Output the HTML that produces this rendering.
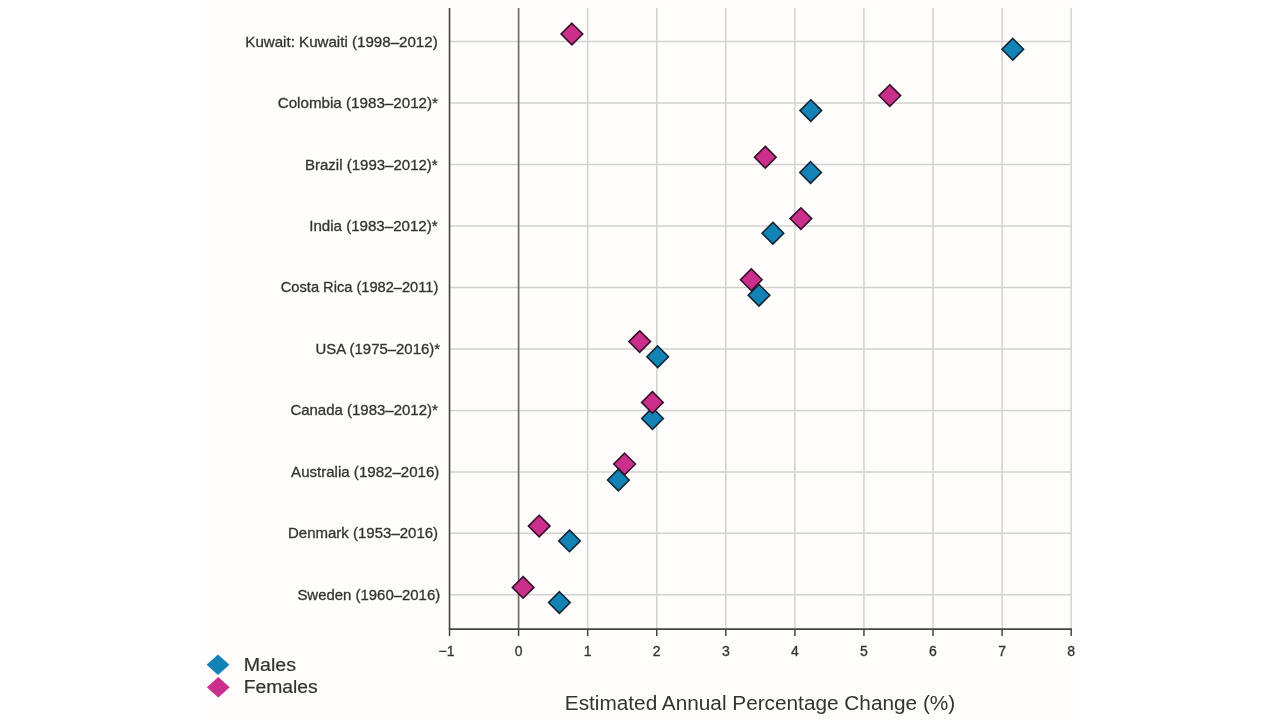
<!DOCTYPE html>
<html><head><meta charset="utf-8"><title>Estimated Annual Percentage Change</title>
<style>
html,body{margin:0;padding:0;background:#ffffff;}
body{width:1280px;height:720px;overflow:hidden;position:relative;font-family:"Liberation Sans",sans-serif;}
.panel{position:absolute;left:200px;top:0;width:880px;height:720px;background:#fefdfb;}
svg{position:absolute;left:0;top:0;will-change:transform;}
svg text{font-family:"Liberation Sans",sans-serif;}
</style></head>
<body>
<div class="panel"></div>
<svg width="1280" height="720" viewBox="0 0 1280 720">
<line x1="449.53" y1="41.60" x2="1071.16" y2="41.60" stroke="#d3d1cf" stroke-width="1.5"/>
<line x1="449.53" y1="103.07" x2="1071.16" y2="103.07" stroke="#d3d1cf" stroke-width="1.5"/>
<line x1="449.53" y1="164.54" x2="1071.16" y2="164.54" stroke="#d3d1cf" stroke-width="1.5"/>
<line x1="449.53" y1="226.01" x2="1071.16" y2="226.01" stroke="#d3d1cf" stroke-width="1.5"/>
<line x1="449.53" y1="287.48" x2="1071.16" y2="287.48" stroke="#d3d1cf" stroke-width="1.5"/>
<line x1="449.53" y1="348.95" x2="1071.16" y2="348.95" stroke="#d3d1cf" stroke-width="1.5"/>
<line x1="449.53" y1="410.42" x2="1071.16" y2="410.42" stroke="#d3d1cf" stroke-width="1.5"/>
<line x1="449.53" y1="471.89" x2="1071.16" y2="471.89" stroke="#d3d1cf" stroke-width="1.5"/>
<line x1="449.53" y1="533.36" x2="1071.16" y2="533.36" stroke="#d3d1cf" stroke-width="1.5"/>
<line x1="449.53" y1="594.83" x2="1071.16" y2="594.83" stroke="#d3d1cf" stroke-width="1.5"/>
<line x1="587.67" y1="8.0" x2="587.67" y2="629.10" stroke="#d3d1cf" stroke-width="1.5"/>
<line x1="656.74" y1="8.0" x2="656.74" y2="629.10" stroke="#d3d1cf" stroke-width="1.5"/>
<line x1="725.81" y1="8.0" x2="725.81" y2="629.10" stroke="#d3d1cf" stroke-width="1.5"/>
<line x1="794.88" y1="8.0" x2="794.88" y2="629.10" stroke="#d3d1cf" stroke-width="1.5"/>
<line x1="863.95" y1="8.0" x2="863.95" y2="629.10" stroke="#d3d1cf" stroke-width="1.5"/>
<line x1="933.02" y1="8.0" x2="933.02" y2="629.10" stroke="#d3d1cf" stroke-width="1.5"/>
<line x1="1002.09" y1="8.0" x2="1002.09" y2="629.10" stroke="#d3d1cf" stroke-width="1.5"/>
<line x1="1071.16" y1="8.0" x2="1071.16" y2="629.10" stroke="#d3d1cf" stroke-width="1.5"/>
<line x1="449.53" y1="8.0" x2="449.53" y2="629.10" stroke="#444444" stroke-width="1.6"/>
<line x1="518.60" y1="8.0" x2="518.60" y2="629.10" stroke="#6a6666" stroke-width="1.6"/>
<line x1="448.78" y1="629.10" x2="1071.91" y2="629.10" stroke="#444444" stroke-width="1.8"/>
<line x1="449.53" y1="629.10" x2="449.53" y2="636.10" stroke="#444444" stroke-width="1.5"/>
<line x1="518.60" y1="629.10" x2="518.60" y2="636.10" stroke="#444444" stroke-width="1.5"/>
<line x1="587.67" y1="629.10" x2="587.67" y2="636.10" stroke="#444444" stroke-width="1.5"/>
<line x1="656.74" y1="629.10" x2="656.74" y2="636.10" stroke="#444444" stroke-width="1.5"/>
<line x1="725.81" y1="629.10" x2="725.81" y2="636.10" stroke="#444444" stroke-width="1.5"/>
<line x1="794.88" y1="629.10" x2="794.88" y2="636.10" stroke="#444444" stroke-width="1.5"/>
<line x1="863.95" y1="629.10" x2="863.95" y2="636.10" stroke="#444444" stroke-width="1.5"/>
<line x1="933.02" y1="629.10" x2="933.02" y2="636.10" stroke="#444444" stroke-width="1.5"/>
<line x1="1002.09" y1="629.10" x2="1002.09" y2="636.10" stroke="#444444" stroke-width="1.5"/>
<line x1="1071.16" y1="629.10" x2="1071.16" y2="636.10" stroke="#444444" stroke-width="1.5"/>
<text x="446.53" y="656.2" font-size="14" text-anchor="middle" fill="#333333" stroke="#333333" stroke-width="0.3">−1</text>
<text x="518.60" y="656.2" font-size="14" text-anchor="middle" fill="#333333" stroke="#333333" stroke-width="0.3">0</text>
<text x="587.67" y="656.2" font-size="14" text-anchor="middle" fill="#333333" stroke="#333333" stroke-width="0.3">1</text>
<text x="656.74" y="656.2" font-size="14" text-anchor="middle" fill="#333333" stroke="#333333" stroke-width="0.3">2</text>
<text x="725.81" y="656.2" font-size="14" text-anchor="middle" fill="#333333" stroke="#333333" stroke-width="0.3">3</text>
<text x="794.88" y="656.2" font-size="14" text-anchor="middle" fill="#333333" stroke="#333333" stroke-width="0.3">4</text>
<text x="863.95" y="656.2" font-size="14" text-anchor="middle" fill="#333333" stroke="#333333" stroke-width="0.3">5</text>
<text x="933.02" y="656.2" font-size="14" text-anchor="middle" fill="#333333" stroke="#333333" stroke-width="0.3">6</text>
<text x="1002.09" y="656.2" font-size="14" text-anchor="middle" fill="#333333" stroke="#333333" stroke-width="0.3">7</text>
<text x="1071.16" y="656.2" font-size="14" text-anchor="middle" fill="#333333" stroke="#333333" stroke-width="0.3">8</text>
<text x="245.30" y="46.60" font-size="14.5" fill="#333333" stroke="#333333" stroke-width="0.3" textLength="192.40" lengthAdjust="spacingAndGlyphs">Kuwait: Kuwaiti (1998–2012)</text>
<text x="277.70" y="108.07" font-size="14.5" fill="#333333" stroke="#333333" stroke-width="0.3" textLength="160.30" lengthAdjust="spacingAndGlyphs">Colombia (1983–2012)*</text>
<text x="305.00" y="169.54" font-size="14.5" fill="#333333" stroke="#333333" stroke-width="0.3" textLength="132.70" lengthAdjust="spacingAndGlyphs">Brazil (1993–2012)*</text>
<text x="309.20" y="231.01" font-size="14.5" fill="#333333" stroke="#333333" stroke-width="0.3" textLength="128.50" lengthAdjust="spacingAndGlyphs">India (1983–2012)*</text>
<text x="280.80" y="292.48" font-size="14.5" fill="#333333" stroke="#333333" stroke-width="0.3" textLength="157.50" lengthAdjust="spacingAndGlyphs">Costa Rica (1982–2011)</text>
<text x="315.60" y="353.95" font-size="14.5" fill="#333333" stroke="#333333" stroke-width="0.3" textLength="124.40" lengthAdjust="spacingAndGlyphs">USA (1975–2016)*</text>
<text x="290.40" y="415.42" font-size="14.5" fill="#333333" stroke="#333333" stroke-width="0.3" textLength="147.40" lengthAdjust="spacingAndGlyphs">Canada (1983–2012)*</text>
<text x="291.10" y="476.89" font-size="14.5" fill="#333333" stroke="#333333" stroke-width="0.3" textLength="148.20" lengthAdjust="spacingAndGlyphs">Australia (1982–2016)</text>
<text x="288.00" y="538.36" font-size="14.5" fill="#333333" stroke="#333333" stroke-width="0.3" textLength="150.10" lengthAdjust="spacingAndGlyphs">Denmark (1953–2016)</text>
<text x="297.40" y="599.83" font-size="14.5" fill="#333333" stroke="#333333" stroke-width="0.3" textLength="142.80" lengthAdjust="spacingAndGlyphs">Sweden (1960–2016)</text>
<path d="M1012.80 38.50L1023.60 49.30L1012.80 60.10L1002.00 49.30Z" fill="#1383b6" stroke="#0f2633" stroke-width="1.6" stroke-linejoin="miter"/>
<path d="M571.90 23.25L582.70 34.05L571.90 44.85L561.10 34.05Z" fill="#ca2f8b" stroke="#34102a" stroke-width="1.6" stroke-linejoin="miter"/>
<path d="M810.80 99.80L821.60 110.60L810.80 121.40L800.00 110.60Z" fill="#1383b6" stroke="#0f2633" stroke-width="1.6" stroke-linejoin="miter"/>
<path d="M889.80 84.80L900.60 95.60L889.80 106.40L879.00 95.60Z" fill="#ca2f8b" stroke="#34102a" stroke-width="1.6" stroke-linejoin="miter"/>
<path d="M810.60 161.70L821.40 172.50L810.60 183.30L799.80 172.50Z" fill="#1383b6" stroke="#0f2633" stroke-width="1.6" stroke-linejoin="miter"/>
<path d="M765.30 146.40L776.10 157.20L765.30 168.00L754.50 157.20Z" fill="#ca2f8b" stroke="#34102a" stroke-width="1.6" stroke-linejoin="miter"/>
<path d="M772.90 222.40L783.70 233.20L772.90 244.00L762.10 233.20Z" fill="#1383b6" stroke="#0f2633" stroke-width="1.6" stroke-linejoin="miter"/>
<path d="M800.90 207.80L811.70 218.60L800.90 229.40L790.10 218.60Z" fill="#ca2f8b" stroke="#34102a" stroke-width="1.6" stroke-linejoin="miter"/>
<path d="M759.00 284.50L769.80 295.30L759.00 306.10L748.20 295.30Z" fill="#1383b6" stroke="#0f2633" stroke-width="1.6" stroke-linejoin="miter"/>
<path d="M751.30 268.90L762.10 279.70L751.30 290.50L740.50 279.70Z" fill="#ca2f8b" stroke="#34102a" stroke-width="1.6" stroke-linejoin="miter"/>
<path d="M657.70 346.00L668.50 356.80L657.70 367.60L646.90 356.80Z" fill="#1383b6" stroke="#0f2633" stroke-width="1.6" stroke-linejoin="miter"/>
<path d="M639.70 330.80L650.50 341.60L639.70 352.40L628.90 341.60Z" fill="#ca2f8b" stroke="#34102a" stroke-width="1.6" stroke-linejoin="miter"/>
<path d="M652.50 407.70L663.30 418.50L652.50 429.30L641.70 418.50Z" fill="#1383b6" stroke="#0f2633" stroke-width="1.6" stroke-linejoin="miter"/>
<path d="M652.40 391.60L663.20 402.40L652.40 413.20L641.60 402.40Z" fill="#ca2f8b" stroke="#34102a" stroke-width="1.6" stroke-linejoin="miter"/>
<path d="M618.40 469.20L629.20 480.00L618.40 490.80L607.60 480.00Z" fill="#1383b6" stroke="#0f2633" stroke-width="1.6" stroke-linejoin="miter"/>
<path d="M624.60 453.20L635.40 464.00L624.60 474.80L613.80 464.00Z" fill="#ca2f8b" stroke="#34102a" stroke-width="1.6" stroke-linejoin="miter"/>
<path d="M569.50 530.10L580.30 540.90L569.50 551.70L558.70 540.90Z" fill="#1383b6" stroke="#0f2633" stroke-width="1.6" stroke-linejoin="miter"/>
<path d="M539.20 515.30L550.00 526.10L539.20 536.90L528.40 526.10Z" fill="#ca2f8b" stroke="#34102a" stroke-width="1.6" stroke-linejoin="miter"/>
<path d="M559.40 591.70L570.20 602.50L559.40 613.30L548.60 602.50Z" fill="#1383b6" stroke="#0f2633" stroke-width="1.6" stroke-linejoin="miter"/>
<path d="M523.10 576.60L533.90 587.40L523.10 598.20L512.30 587.40Z" fill="#ca2f8b" stroke="#34102a" stroke-width="1.6" stroke-linejoin="miter"/>
<path d="M218.00 654.60L229.40 664.80L218.00 675.00L206.60 664.80Z" fill="#1383b6"/>
<path d="M218.30 677.00L229.70 687.20L218.30 697.40L206.90 687.20Z" fill="#ca2f8b"/>
<text x="243.7" y="671.0" font-size="17.5" fill="#333333" stroke="#333333" stroke-width="0.2" textLength="52.30" lengthAdjust="spacingAndGlyphs">Males</text>
<text x="243.7" y="692.7" font-size="17.5" fill="#333333" stroke="#333333" stroke-width="0.2" textLength="74.10" lengthAdjust="spacingAndGlyphs">Females</text>
<text x="564.8" y="710.2" font-size="20" fill="#333333" textLength="390.40" lengthAdjust="spacingAndGlyphs">Estimated Annual Percentage Change (%)</text>
</svg>
</body></html>
